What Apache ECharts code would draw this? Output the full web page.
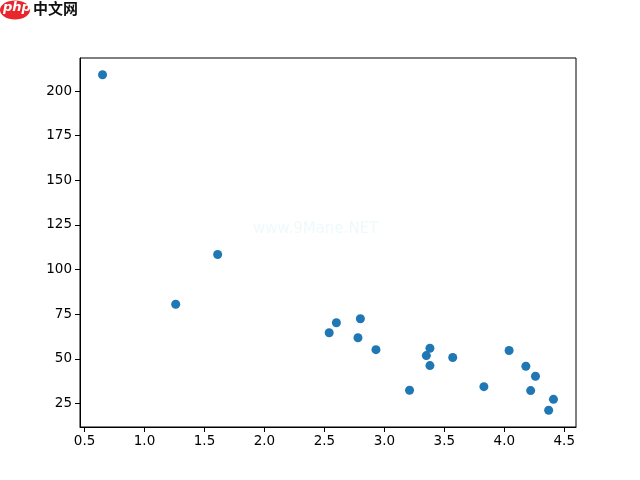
<!DOCTYPE html>
<html>
<head>
<meta charset="utf-8">
<script src="https://cdn.jsdelivr.net/npm/echarts@6/dist/echarts.min.js"></script>
<style>html,body{margin:0;padding:0;background:#fff;}#c{width:640px;height:480px;}</style>
</head>
<body>
<div id="c"></div>
<script>
const xValues = [0.65, 1.26, 1.61, 2.54, 2.60, 2.80, 2.78, 2.93, 3.21, 3.35, 3.38, 3.38, 3.57, 3.83, 4.04, 4.18, 4.26, 4.22, 4.41, 4.37];
const yValues = [209.1, 80.6, 108.5, 64.7, 70.3, 72.5, 61.9, 55.2, 32.5, 51.9, 56.0, 46.3, 50.8, 34.5, 54.7, 45.9, 40.3, 32.3, 27.4, 21.3];
const xTicks = [0.5, 1.0, 1.5, 2.0, 2.5, 3.0, 3.5, 4.0, 4.5];
const yTicks = [25, 50, 75, 100, 125, 150, 175, 200];

const points = xValues.map((x, i) => [x, yValues[i]]);
const font = 'DejaVu Sans';

const chart = echarts.init(document.getElementById('c'), null, {renderer: 'canvas'});
chart.setOption({
  animation: false,
  backgroundColor: '#fff',
  grid: {left: 80, right: 64, top: 58, bottom: 53, show: true, borderColor: '#000', borderWidth: 1, backgroundColor: 'transparent'},
  xAxis: {
    type: 'value', min: 0.462, max: 4.598,
    splitLine: {show: false},
    axisLine: {show: true, onZero: false, lineStyle: {color: '#000', width: 1}},
    axisTick: {show: true, length: 5, lineStyle: {color: '#000'}, customValues: xTicks},
    axisLabel: {color: '#000', fontSize: 13.5, fontFamily: font, margin: 7, customValues: xTicks, formatter: v => v.toFixed(1)}
  },
  yAxis: {
    type: 'value', min: 11.9, max: 218.5,
    splitLine: {show: false},
    axisLine: {show: true, onZero: false, lineStyle: {color: '#000', width: 1}},
    axisTick: {show: true, length: 5, lineStyle: {color: '#000'}, customValues: yTicks},
    axisLabel: {color: '#000', fontSize: 13.5, fontFamily: font, margin: 8, customValues: yTicks}
  },
  graphic: [
    {type: 'text', left: 253, top: 222, silent: true, style: {text: 'www.9Mane.NET', fill: '#eefafa', font: '15px "DejaVu Sans"'}},
    {type: 'ellipse', shape: {cx: 15, cy: 10, rx: 15, ry: 9.5}, style: {fill: '#e8262c'}},
    {type: 'text', left: 3, top: 1, style: {text: 'php', fill: '#fff', font: 'italic bold 13px "DejaVu Sans"'}},
    {type: 'text', left: 33, top: 1, style: {text: '中文网', fill: '#111', font: 'bold 15px "Noto Sans CJK SC"'}}
  ],
  series: [{
    type: 'scatter',
    data: points,
    symbolSize: 9,
    itemStyle: {color: '#1f77b4', opacity: 1}
  }]
});
</script>
</body>
</html>
